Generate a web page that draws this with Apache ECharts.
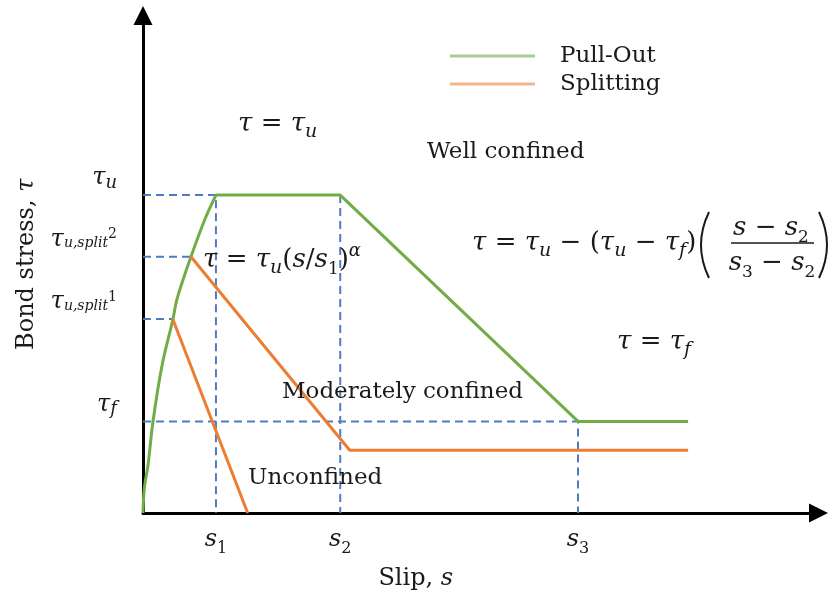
<!DOCTYPE html>
<html>
<head>
<meta charset="utf-8">
<script src="https://cdn.jsdelivr.net/npm/echarts@6/dist/echarts.min.js"></script>
<style>
  html, body { margin: 0; padding: 0; background: #ffffff; }
  #chart { width: 832px; height: 596px; }
</style>
</head>
<body>
<div id="chart"></div>
<script>
// Bond stress–slip model (schematic units, 0–100 on both axes)

// Characteristic slips s1, s2, s3 and their labels
const slipTicks = [10.8, 29.2, 64.4];
const slipTickLabels = ['{i|s}{sn|1}', '{i|s}{sn|2}', '{i|s}{sn|3}'];

// Characteristic stresses tau_f, tau_u,split1, tau_u,split2, tau_u and their labels
const stressTicks = [18.4, 39.0, 51.5, 63.9];
const stressTickLabels = [
  '{i|τ}{subL|f}',
  '{i|τ}{sub|u,split}{sup|1}',
  '{i|τ}{sub|u,split}{sup|2}',
  '{i|τ}{subL|u}'
];

// Pull-out envelope: ascending power-law branch, then plateau, softening and residual
const pullOutRise = [
  [0, 0], [0.2, 5.0], [0.74, 9.6], [1.48, 18.4], [2.81, 29.6], [4.44, 39.0],
  [5.03, 43.0], [7.1, 51.5], [9.18, 59.1], [10.8, 63.9]
];
const pullOutPeak = [[10.8, 63.9], [29.2, 63.9], [64.4, 18.4], [80.7, 18.4]];
// Splitting branches
const splitModerate = [[7.1, 51.5], [30.6, 12.6], [80.7, 12.6]];
const splitUnconfined = [[4.4, 39.0], [15.5, 0]];

// Dashed reference lines built from the characteristic values
const [s1, s2, s3] = slipTicks;
const [tauF, tauSplit1, tauSplit2, tauU] = stressTicks;
const guides = [
  [[0, tauU], [s1, tauU], [s1, 0]],
  [[s2, tauU], [s2, 0]],
  [[0, tauF], [s3, tauF], [s3, 0]],
  [[0, tauSplit2], [splitModerate[0][0], tauSplit2]],
  [[0, tauSplit1], [splitUnconfined[0][0], tauSplit1]]
];

const TXT = '#1a1a1a';
const SERIF = 'DejaVu Serif';
const GREEN = '#70ad47';
const ORANGE = '#ed7d31';
const GUIDE = '#4f7cc0';

const mk = (o) => Object.assign({ fontFamily: SERIF, color: TXT, fill: TXT }, o);

// formula typography
const RICH = {
  i: mk({ fontStyle: 'italic', fontSize: 26, lineHeight: 36 }),
  n: mk({ fontSize: 26, lineHeight: 36 }),
  sub: mk({ fontStyle: 'italic', fontSize: 19, lineHeight: 26, verticalAlign: 'bottom' }),
  sn: mk({ fontSize: 17, lineHeight: 26, verticalAlign: 'bottom' }),
  sup: mk({ fontStyle: 'italic', fontSize: 18, lineHeight: 24, verticalAlign: 'top' })
};
// stress-axis tick labels: sub/superscripts shifted with asymmetric padding
const Y_RICH = {
  i: mk({ fontStyle: 'italic', fontSize: 24, lineHeight: 34 }),
  subL: mk({ fontStyle: 'italic', fontSize: 18, lineHeight: 34, padding: [10, 0, 0, 0] }),
  sub: mk({ fontStyle: 'italic', fontSize: 14, lineHeight: 34, padding: [8, 0, 0, 0] }),
  sup: mk({ fontSize: 14, lineHeight: 34, padding: [0, 0, 10, 0] })
};
// slip-axis tick labels
const X_RICH = {
  i: mk({ fontStyle: 'italic', fontSize: 24, lineHeight: 34 }),
  sn: mk({ fontSize: 16, lineHeight: 22, verticalAlign: 'bottom' })
};
// axis names
const NAME_RICH = {
  n: mk({ fontSize: 24, lineHeight: 32 }),
  i: mk({ fontStyle: 'italic', fontSize: 24, lineHeight: 32 })
};

function mathText(x, y, text, align) {
  return {
    type: 'text', x: x, y: y, z: 10,
    style: { text: text, rich: RICH, fill: TXT, align: align || 'left', verticalAlign: 'middle' }
  };
}
function plainText(x, y, text) {
  return {
    type: 'text', x: x, y: y, z: 10,
    style: { text: text, fill: TXT, fontFamily: SERIF, fontSize: 23, align: 'left', verticalAlign: 'middle' }
  };
}
function paren(x1, y1, cx, y2) {
  return {
    type: 'bezierCurve', z: 10,
    shape: { x1: x1, y1: y1, x2: x1, y2: y2, cpx1: cx, cpy1: (y1 + y2) / 2 },
    style: { stroke: TXT, fill: null, lineWidth: 2 }
  };
}

const guideSeries = guides.map((pts, k) => ({
  type: 'line', name: 'guide' + k, data: pts, showSymbol: false, silent: true, z: 1,
  lineStyle: { color: GUIDE, width: 2, type: [8, 5] }
}));

const chart = echarts.init(document.getElementById('chart'), null, { renderer: 'canvas' });
chart.setOption({
  animation: false,
  backgroundColor: '#ffffff',
  grid: { left: 143, right: 13.5, top: 15.5, bottom: 81, containLabel: false },
  legend: {
    orient: 'vertical', left: 445, top: 39,
    itemWidth: 85, itemHeight: 3, itemGap: 4, icon: 'rect',
    textStyle: { fontFamily: SERIF, fontSize: 23, color: TXT, lineHeight: 24, padding: [0, 0, 0, 20] },
    data: [
      { name: 'Pull-Out', itemStyle: { color: '#a9cc98' } },
      { name: 'Splitting', itemStyle: { color: '#f2b58b' } }
    ]
  },
  xAxis: {
    type: 'value', min: 0, max: 100,
    name: '{n|Slip, }{i|s}', nameLocation: 'middle', nameGap: 50,
    nameTextStyle: { rich: NAME_RICH, padding: [0, 130, 0, 0] },
    axisLine: { show: true, symbol: ['none', 'triangle'], symbolSize: [19, 19], lineStyle: { color: '#000', width: 3 } },
    axisTick: { show: false },
    splitLine: { show: false },
    axisLabel: {
      show: true, customValues: slipTicks, margin: 10, rich: X_RICH,
      formatter: (v) => { const k = slipTicks.indexOf(v); return k < 0 ? '' : slipTickLabels[k]; }
    }
  },
  yAxis: {
    type: 'value', min: 0, max: 100,
    name: '{n|Bond stress, }{i|τ}', nameLocation: 'middle', nameGap: 100, nameRotate: 90,
    nameTextStyle: { rich: NAME_RICH },
    axisLine: { show: true, symbol: ['none', 'triangle'], symbolSize: [19, 19], lineStyle: { color: '#000', width: 3 } },
    axisTick: { show: false },
    splitLine: { show: false },
    axisLabel: {
      show: true, customValues: stressTicks, margin: 26, rich: Y_RICH, verticalAlign: 'bottom',
      formatter: (v) => { const k = stressTicks.indexOf(v); return k < 0 ? '' : stressTickLabels[k]; }
    }
  },
  series: guideSeries.concat([
    { type: 'line', name: 'Pull-Out', data: pullOutRise, showSymbol: false, z: 3, smooth: 0.35,
      lineStyle: { color: GREEN, width: 3 }, itemStyle: { color: GREEN } },
    { type: 'line', name: 'Pull-Out', data: pullOutPeak, showSymbol: false, z: 3,
      lineStyle: { color: GREEN, width: 3 }, itemStyle: { color: GREEN } },
    { type: 'line', name: 'Splitting', data: splitModerate, showSymbol: false, z: 3,
      lineStyle: { color: ORANGE, width: 3 }, itemStyle: { color: ORANGE } },
    { type: 'line', name: 'Splitting', data: splitUnconfined, showSymbol: false, z: 3,
      lineStyle: { color: ORANGE, width: 3 }, itemStyle: { color: ORANGE } }
  ]),
  graphic: [
    mathText(238, 124, '{i|τ}{n| = }{i|τ}{sub|u}'),
    plainText(427, 152, 'Well confined'),
    mathText(203, 260, '{i|τ}{n| = }{i|τ}{sub|u}{n|(}{i|s}{n|/}{i|s}{sn|1}{n|)}{sup|α}'),
    mathText(472, 243, '{i|τ}{n| = }{i|τ}{sub|u}{n| − (}{i|τ}{sub|u}{n| − }{i|τ}{sub|f}{n|)}'),
    mathText(771, 228, '{i|s}{n| − }{i|s}{sn|2}', 'center'),
    mathText(772, 263, '{i|s}{sn|3}{n| − }{i|s}{sn|2}', 'center'),
    { type: 'line', z: 10, shape: { x1: 731, y1: 243, x2: 814, y2: 243 }, style: { stroke: TXT, lineWidth: 1.6 } },
    paren(709, 212, 693, 278),
    paren(819, 212, 835, 278),
    mathText(617, 342, '{i|τ}{n| = }{i|τ}{sub|f}'),
    plainText(282, 392, 'Moderately confined'),
    plainText(248, 478, 'Unconfined')
  ]
});
</script>
</body>
</html>
